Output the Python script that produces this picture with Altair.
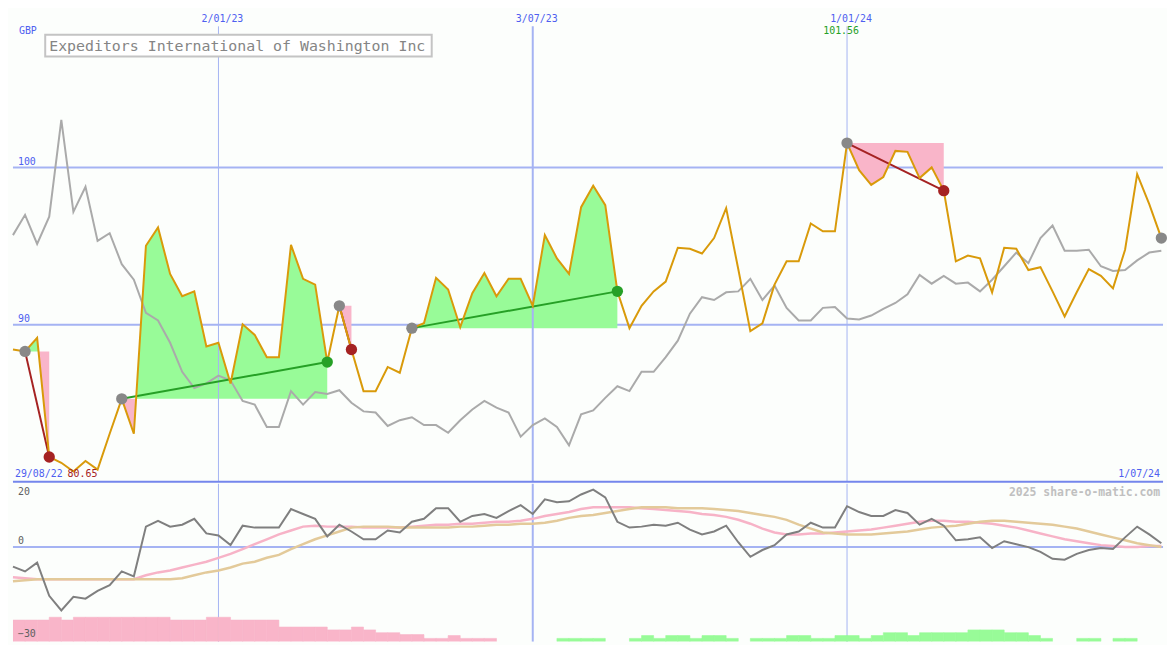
import altair as alt
import pandas as pd

# ---------------- data ----------------
dates = pd.date_range("2022-09-05", periods=96, freq="7D")

price = [88.42, 88.30, 89.16, 81.58, 81.21, 80.65, 81.33, 80.78, 83.06, 85.28,
         83.06, 95.02, 96.19, 93.23, 91.81, 92.12, 88.61, 88.85, 86.26, 90.02,
         89.35, 87.93, 87.93, 95.08, 92.92, 92.55, 87.62, 91.20, 88.42, 85.77,
         85.77, 87.31, 86.94, 89.78, 90.09, 92.98, 92.24, 89.84, 92.00, 93.29,
         91.81, 92.92, 92.92, 91.20, 95.70, 94.22, 93.23, 97.48, 98.84, 97.61,
         92.12, 89.78, 91.20, 92.12, 92.74, 94.90, 94.83, 94.53, 95.51, 97.42,
         93.54, 89.59, 90.09, 92.55, 94.03, 94.03, 96.44, 95.94, 95.94, 101.56,
         99.83, 98.90, 99.40, 101.06, 101.00, 99.33, 100.01, 98.53, 94.03, 94.40,
         94.22, 92.06, 94.90, 94.83, 93.48, 93.66, 92.12, 90.52, 92.06, 93.54,
         93.11, 92.31, 94.77, 99.58, 97.67, 95.51]

comp = [95.70, 96.99, 95.14, 96.87, 103.03, 97.18, 98.78, 95.33, 95.82, 93.85,
        92.86, 90.76, 90.27, 88.85, 87.00, 85.96, 86.26, 86.76, 86.45, 85.15,
        84.91, 83.49, 83.49, 85.77, 84.91, 85.71, 85.59, 85.83, 85.03, 84.48,
        84.41, 83.55, 83.92, 84.11, 83.61, 83.61, 83.12, 83.92, 84.60, 85.15,
        84.72, 84.41, 82.87, 83.61, 84.04, 83.49, 82.32, 84.29, 84.54, 85.34,
        86.08, 85.77, 87.00, 87.00, 87.93, 88.98, 90.70, 91.75, 91.57, 92.06,
        92.12, 92.92, 91.57, 92.49, 91.07, 90.27, 90.27, 91.07, 91.13, 90.39,
        90.33, 90.58, 91.01, 91.38, 91.94, 93.17, 92.61, 93.11, 92.61, 92.68,
        92.12, 92.86, 93.72, 94.59, 93.91, 95.51, 96.31, 94.71, 94.71, 94.77,
        93.72, 93.42, 93.48, 94.09, 94.59, 94.71]

mom = [-6.23, -7.78, -5.00, -15.49, -20.12, -15.80, -16.42, -13.95, -12.10, -7.78,
       -9.32, 6.42, 8.27, 6.42, 7.04, 8.89, 4.26, 3.64, 0.56, 6.73,
       6.11, 6.11, 6.11, 11.98, 10.43, 8.89, 3.33, 7.04, 4.88, 2.41,
       2.41, 5.19, 4.57, 7.96, 8.89, 12.28, 12.28, 7.96, 9.81, 10.43,
       9.20, 11.36, 13.21, 10.43, 15.06, 14.14, 14.44, 16.60, 18.15, 15.68,
       7.96, 6.11, 6.42, 7.04, 6.73, 7.65, 5.49, 3.95, 4.88, 6.73,
       1.48, -3.15, -0.99, 0.56, 3.95, 4.88, 7.65, 6.11, 6.11, 12.90,
       11.05, 9.81, 9.81, 11.67, 10.74, 7.04, 8.89, 6.73, 2.10, 2.41,
       3.02, -0.37, 1.79, 0.86, -0.06, -1.60, -3.77, -4.07, -2.22, -0.99,
       -0.37, -0.68, 3.02, 6.42, 3.95, 1.17]

ma_fast = [-9.63, -9.94, -10.25, -10.25, -10.25, -10.25, -10.25, -10.25, -10.25, -10.25,
           -10.25, -9.01, -8.09, -7.47, -6.54, -5.62, -4.69, -3.46, -2.22, -0.68,
           0.86, 2.41, 3.95, 5.19, 6.42, 6.73, 6.42, 6.42, 6.42, 6.11,
           6.11, 6.11, 6.11, 6.42, 6.73, 7.04, 7.04, 7.35, 7.35, 7.65,
           7.96, 7.96, 8.27, 8.89, 9.81, 10.43, 11.05, 11.98, 12.59, 12.59,
           12.59, 12.59, 12.28, 11.98, 11.67, 11.36, 11.05, 10.43, 10.12, 9.51,
           8.58, 7.35, 5.80, 4.57, 3.95, 3.95, 4.26, 4.26, 4.57, 4.88,
           5.19, 5.49, 6.11, 6.73, 7.35, 7.96, 8.27, 8.27, 7.96, 7.96,
           7.65, 7.35, 6.73, 6.11, 5.19, 4.26, 3.33, 2.41, 1.79, 1.17,
           0.56, 0.25, -0.06, -0.06, 0.25, 0.25]

ma_slow = [-10.86, -10.56, -10.25, -10.25, -10.25, -10.25, -10.25, -10.25, -10.25, -10.25,
           -10.25, -10.25, -10.25, -10.25, -9.94, -9.01, -8.09, -7.47, -6.54, -5.31,
           -4.69, -3.46, -2.53, -0.68, 0.86, 2.41, 3.64, 4.88, 6.11, 6.42,
           6.42, 6.42, 6.11, 6.11, 6.11, 6.11, 6.11, 6.42, 6.42, 6.73,
           7.04, 7.04, 7.35, 7.35, 7.65, 8.27, 9.20, 9.81, 10.12, 10.74,
           11.36, 11.98, 12.59, 12.59, 12.59, 12.28, 12.28, 12.28, 11.98, 11.67,
           11.36, 10.74, 10.12, 9.51, 8.58, 7.04, 5.80, 4.57, 4.26, 3.95,
           3.95, 3.95, 4.26, 4.57, 4.88, 5.49, 6.11, 6.42, 6.73, 7.35,
           7.96, 8.27, 8.27, 7.96, 7.65, 7.35, 7.04, 6.42, 5.80, 4.88,
           3.95, 3.02, 2.10, 1.17, 0.56, -0.06]

bars = [-6.8, -6.8, -6.8, -7.7, -6.8, -7.7, -7.7, -7.7, -7.7, -7.7,
        -7.7, -7.7, -7.7, -6.8, -6.8, -6.8, -7.7, -7.7, -6.8, -6.8,
        -6.8, -6.8, -4.6, -4.6, -4.6, -4.6, -3.7, -3.7, -4.6, -3.7,
        -2.8, -2.8, -2.2, -2.2, -1.0, -1.0, -1.9, -1.0, -1.0, -1.0,
        0, 0, 0, 0, 0, 1.0, 1.0, 1.0, 1.0, 0,
        0, 1.0, 1.9, 1.0, 1.9, 1.9, 1.0, 1.9, 1.9, 1.0,
        0, 1.0, 1.0, 1.0, 1.9, 1.9, 1.0, 1.0, 1.9, 1.9,
        1.0, 1.9, 2.8, 2.8, 1.9, 2.8, 2.8, 2.8, 2.8, 3.7,
        3.7, 3.7, 2.8, 2.8, 1.9, 1.0, 0, 0, 1.0, 1.0,
        0, 1.0, 1.0, 0, 0, 0]

entries = [1, 9, 27, 33, 69, 95]
exits = [3, 26, 28, 50, 77, None]

vline_dates = ["2023-01-02", "2023-07-03", "2024-01-01"]
vline_labels = ["2/01/23", "3/07/23", "1/01/24"]
price_ticks = [100, 90]
osc_ticks = [20, 0, -30]
osc_dy = [8, -6, -8]
title_text = "Expeditors International of Washington Inc"
currency = "GBP"
start_label = "29/08/22"
end_label = "1/07/24"
watermark = "2025 share-o-matic.com"

# ---------------- style ----------------
W, H1, H2 = 1159, 475, 159
XMAX = 95.14
BG = "#fcfefc"
BLUE_TXT = "#4f5ff0"
GRID = "#a5b3f3"
BORDER = "#7486ec"
ORANGE = "#d99a0a"
GREEN_FILL = "#98fb98"
PINK_FILL = "#f9b5c9"
WIN = "#26a026"
LOSS = "#a52222"
FONT = "DejaVu Sans Mono"

df = pd.DataFrame({"wk": list(range(len(price))), "price": price, "comp": comp,
                   "mom": mom, "ma1": ma_fast, "ma2": ma_slow, "bar": bars})
df["wk2"] = df["wk"] + 1
df["bar_top"] = -30 + df["bar"].abs()
df["sign"] = ["up" if b > 0 else "down" for b in bars]
bar_df = df[df["bar"] != 0]

date_list = list(dates)
vdf = pd.DataFrame({"wk": [date_list.index(pd.Timestamp(d)) for d in vline_dates],
                    "lab": vline_labels})

# trade shading / lines / markers
area_rows, line_rows, entry_rows, exit_rows = [], [], [], []
for t, (e, x) in enumerate(zip(entries, exits)):
    lvl = price[e]
    entry_rows.append({"wk": e, "val": lvl})
    if x is None:
        continue
    res = "win" if price[x] > lvl else "loss"
    pts = []
    for j in range(e, x):
        pts.append((j, price[j]))
        p0, p1 = price[j] - lvl, price[j + 1] - lvl
        if p0 * p1 < 0:
            pts.append((j + p0 / (p0 - p1), lvl))
    pts.append((x, price[x]))
    for wx, v in pts:
        area_rows.append({"trade": t, "wk": wx, "up": max(v, lvl), "dn": min(v, lvl), "lvl": lvl})
    line_rows += [{"trade": t, "wk": e, "val": lvl, "res": res},
                  {"trade": t, "wk": x, "val": price[x], "res": res}]
    exit_rows.append({"wk": x, "val": price[x], "res": res})

area_df = pd.DataFrame(area_rows)
line_df = pd.DataFrame(line_rows)
entry_df = pd.DataFrame(entry_rows)
exit_df = pd.DataFrame(exit_rows)
res_scale = alt.Scale(domain=["win", "loss"], range=[WIN, LOSS])

imax = price.index(max(price))
ext_df = pd.DataFrame({"wk": [imax], "txt": [f"{max(price):.2f}"]})
min_df = pd.DataFrame({"txt": [f"{min(price):.2f}"]})

xs = alt.Scale(domain=[0, XMAX], nice=False, zero=False)
X = alt.X("wk:Q", scale=xs, axis=None)
X2 = alt.X2("wk2:Q")
ys1 = alt.Scale(domain=[80, 110], nice=False, zero=False)
ys2 = alt.Scale(domain=[-30, 20], nice=False, zero=False)

def Y1(f):
    return alt.Y(f, type="quantitative", scale=ys1, axis=None)

def Y2(f):
    return alt.Y(f, type="quantitative", scale=ys2, axis=None)

# ---------------- main panel ----------------
hl = alt.Chart(pd.DataFrame({"val": price_ticks})).mark_rule(color=GRID, strokeWidth=2).encode(y=Y1("val"))
green = alt.Chart(area_df).mark_area(color=GREEN_FILL, opacity=1).encode(
    x=X, y=Y1("up"), y2=alt.Y2("lvl"), detail="trade:N")
pink = alt.Chart(area_df).mark_area(color=PINK_FILL, opacity=1).encode(
    x=X, y=Y1("dn"), y2=alt.Y2("lvl"), detail="trade:N")
vl = alt.Chart(vdf).mark_rule(color=GRID).encode(
    x=X, y=alt.value(16), y2=alt.value(H1),
    strokeWidth=alt.condition(alt.datum.lab == "3/07/23", alt.value(2), alt.value(1)))
base_rule = alt.Chart(pd.DataFrame({"val": [80]})).mark_rule(color=BORDER, strokeWidth=2).encode(y=Y1("val"))
comp_line = alt.Chart(df).mark_line(color="#aaaaaa", strokeWidth=2).encode(x=X, y=Y1("comp"))
trend = alt.Chart(line_df).mark_line(strokeWidth=2).encode(
    x=X, y=Y1("val"), detail="trade:N", color=alt.Color("res:N", scale=res_scale, legend=None))
price_line = alt.Chart(df).mark_line(color=ORANGE, strokeWidth=2).encode(x=X, y=Y1("price"))
entry_pts = alt.Chart(entry_df).mark_circle(color="#888888", size=130, opacity=1).encode(x=X, y=Y1("val"))
exit_pts = alt.Chart(exit_df).mark_circle(size=130, opacity=1).encode(
    x=X, y=Y1("val"), color=alt.Color("res:N", scale=res_scale, legend=None))

title_box = alt.Chart(pd.DataFrame({"t": [title_text]})).mark_rect(
    fill="#ffffff", stroke="#c4c4c4", strokeWidth=2).encode(
    x=alt.value(32.5), x2=alt.value(422), y=alt.value(24.5), y2=alt.value(46.5))
title_txt = alt.Chart(pd.DataFrame({"t": [title_text]})).mark_text(
    font=FONT, fontSize=15, color="#858585", align="left", baseline="middle").encode(
    x=alt.value(36.5), y=alt.value(35.5), text="t:N")

cur_txt = alt.Chart(pd.DataFrame({"t": [currency]})).mark_text(
    font=FONT, fontSize=10, color=BLUE_TXT, align="left", baseline="middle").encode(
    x=alt.value(6), y=alt.value(20.5), text="t:N")
ptick_txt = alt.Chart(pd.DataFrame({"val": price_ticks})).mark_text(
    font=FONT, fontSize=10, color=BLUE_TXT, align="left", baseline="middle", dy=-6).encode(
    x=alt.value(5), y=Y1("val"), text="val:Q")
date_txt = alt.Chart(vdf).mark_text(
    font=FONT, fontSize=10, color=BLUE_TXT, align="center", baseline="middle", dx=4).encode(
    x=X, y=alt.value(8.8), text="lab:N")
max_txt = alt.Chart(ext_df).mark_text(
    font=FONT, fontSize=10, color=WIN, align="center", baseline="middle", dx=-6).encode(
    x=X, y=alt.value(20.5), text="txt:N")
start_txt = alt.Chart(pd.DataFrame({"t": [start_label]})).mark_text(
    font=FONT, fontSize=10, color=BLUE_TXT, align="left", baseline="middle").encode(
    x=alt.value(2), y=alt.value(467), text="t:N")
min_txt = alt.Chart(min_df).mark_text(
    font=FONT, fontSize=10, color=LOSS, align="left", baseline="middle").encode(
    x=alt.value(55), y=alt.value(467), text="txt:N")
end_txt = alt.Chart(pd.DataFrame({"t": [end_label]})).mark_text(
    font=FONT, fontSize=10, color=BLUE_TXT, align="right", baseline="middle").encode(
    x=alt.value(W - 3), y=alt.value(467), text="t:N")

main = alt.layer(hl, green, pink, vl, base_rule, comp_line, trend, price_line,
                 entry_pts, exit_pts, title_box, title_txt, cur_txt, ptick_txt,
                 date_txt, max_txt, start_txt, min_txt, end_txt).properties(width=W, height=H1)

# ---------------- oscillator panel ----------------
sign_scale = alt.Scale(domain=["up", "down"], range=[GREEN_FILL, PINK_FILL])
zero_rule = alt.Chart(pd.DataFrame({"val": [0]})).mark_rule(color=GRID, strokeWidth=2).encode(y=Y2("val"))
vl2 = alt.Chart(vdf).mark_rule(color=GRID).encode(
    x=X, y=alt.value(0), y2=alt.value(H2),
    strokeWidth=alt.condition(alt.datum.lab == "3/07/23", alt.value(2), alt.value(1)))
bar_rects = alt.Chart(bar_df).mark_rect(clip=True, strokeWidth=0.6).encode(
    x=X, x2=X2, y=alt.Y("bar_top:Q", scale=ys2, axis=None), y2=alt.datum(-30),
    color=alt.Color("sign:N", scale=sign_scale, legend=None),
    stroke=alt.Stroke("sign:N", scale=sign_scale, legend=None))
ma1_line = alt.Chart(df).mark_line(color="#f7b3c7", strokeWidth=2.5).encode(x=X, y=Y2("ma1"))
ma2_line = alt.Chart(df).mark_line(color="#e3ca9a", strokeWidth=2.5).encode(x=X, y=Y2("ma2"))
mom_line = alt.Chart(df).mark_line(color="#7f7f7f", strokeWidth=2).encode(x=X, y=Y2("mom"))

osc_txt_layers = []
for v, d in zip(osc_ticks, osc_dy):
    osc_txt_layers.append(
        alt.Chart(pd.DataFrame({"val": [v]})).mark_text(
            font=FONT, fontSize=10, color="#606060", align="left", baseline="middle", dy=d).encode(
            x=alt.value(5), y=Y2("val"), text="val:Q"))
wm_txt = alt.Chart(pd.DataFrame({"t": [watermark]})).mark_text(
    font=FONT, fontSize=11.5, fontWeight="bold", color="#c0c0c0", align="right", baseline="middle").encode(
    x=alt.value(W - 3), y=alt.value(9), text="t:N")

lower = alt.layer(zero_rule, vl2, bar_rects, ma1_line, ma2_line, mom_line,
                  *osc_txt_layers, wm_txt).properties(width=W, height=H2)

chart = alt.vconcat(main, lower, spacing=0).properties(
    background=BG, padding=0
).configure_view(stroke=None).resolve_scale(color="independent")

chart.save("out.html", embed_options={"renderer": "svg", "actions": False})
